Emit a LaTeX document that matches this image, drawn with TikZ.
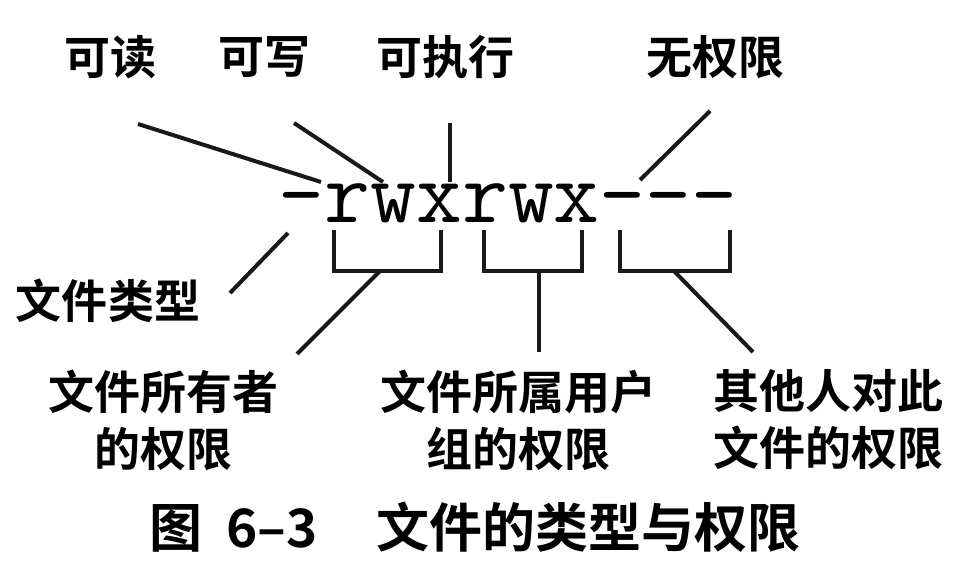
\documentclass[tikz,border=0pt]{standalone}
\usepackage{fontspec}
\setmainfont{Noto Sans CJK SC}[BoldFont={Noto Sans CJK SC Bold}]
\begin{document}
\begin{tikzpicture}[x=1pt,y=-1pt,
  lbl/.style={inner sep=0pt,font=\bfseries\fontsize{46}{57}\selectfont,align=center},
  captext/.style={inner sep=0pt,font=\bfseries\fontsize{53}{60}\selectfont},
  ln/.style={line width=4pt,black!90}]
\useasboundingbox[fill=white] (0,0) rectangle (960,572);
% labels
\node[lbl] (read) at (110,57) {可读};
\node[lbl] (write) at (264,57) {可写};
\node[lbl] (exec) at (445,57) {可执行};
\node[lbl] (none) at (715,57) {无权限};
\node[lbl] (type) at (108,301) {文件类型};
\node[lbl] (owner) at (163,420) {文件所有者\\的权限};
\node[lbl] (group) at (518,420) {文件所属用户\\组的权限};
\node[lbl] (other) at (828,420) {其他人对此\\文件的权限};
\node[captext] (caption) at (475,527) {图\hspace{0.45em}6--3\hspace{1.1em}文件的类型与权限};
% permission string
\node[inner sep=0pt,anchor=base,font=\ttfamily\fontsize{89}{90}\selectfont] (perm) at (508,222) {-rwxrwx---};
% line ends
\coordinate (r0) at (138,124);  \coordinate (r1) at (321,182);
\coordinate (w0) at (294,123);  \coordinate (w1) at (383,182);
\coordinate (x0) at (450,123);  \coordinate (x1) at (450,182);
\coordinate (n0) at (710,111);  \coordinate (n1) at (640,180);
\coordinate (t0) at (288,233);  \coordinate (t1) at (230,293);
\draw[ln] (r0) -- (r1);
\draw[ln] (w0) -- (w1);
\draw[ln] (x0) -- (x1);
\draw[ln] (n0) -- (n1);
\draw[ln] (t0) -- (t1);
% brackets
\coordinate (b1) at (380,271); \coordinate (b1e) at (297,354);
\coordinate (b2) at (539,271); \coordinate (b2e) at (539,352);
\coordinate (b3) at (674,271); \coordinate (b3e) at (753,352);
\draw[ln] (334,230) |- (441,271) -- (441,230);
\draw[ln] (484,230) |- (582,271) -- (582,230);
\draw[ln] (620,230) |- (730,271) -- (730,230);
\draw[ln] (b1) -- (b1e);
\draw[ln] (b2) -- (b2e);
\draw[ln] (b3) -- (b3e);
\end{tikzpicture}
\end{document}
